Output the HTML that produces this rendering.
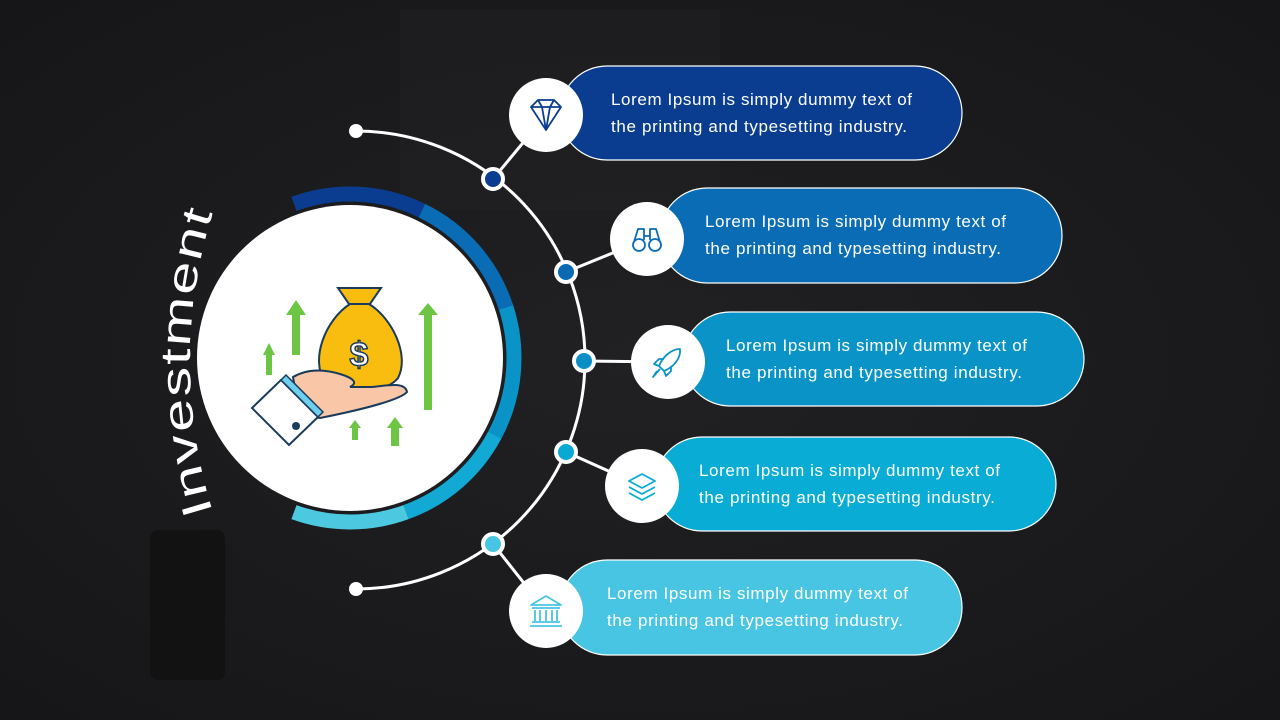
<!DOCTYPE html>
<html><head><meta charset="utf-8"><style>
html,body{margin:0;padding:0;width:1280px;height:720px;overflow:hidden;background:#1a1a1c}
svg{display:block}
text{font-family:"Liberation Sans",sans-serif}
</style></head><body>
<svg width="1280" height="720" viewBox="0 0 1280 720" xmlns="http://www.w3.org/2000/svg">
<defs>
<radialGradient id="bg" cx="50%" cy="50%" r="70%">
<stop offset="0" stop-color="#212123"/><stop offset="1" stop-color="#161618"/>
</radialGradient>
<path id="tp" d="M213,512 A500,500 0 0 1 213,212"/>
</defs>
<rect width="1280" height="720" fill="url(#bg)"/>
<rect x="400" y="10" width="320" height="200" fill="#242527" opacity="0.35"/>
<rect x="150" y="530" width="75" height="150" rx="8" fill="#121213"/>

<path d="M356,131 A229,229 0 0 1 356,589" fill="none" stroke="#fff" stroke-width="3"/>
<g stroke="#fff" stroke-width="3">
<line x1="493" y1="179" x2="546" y2="115"/>
<line x1="566" y1="272" x2="647" y2="239"/>
<line x1="584" y1="361" x2="668" y2="362"/>
<line x1="566" y1="452" x2="642" y2="486"/>
<line x1="493" y1="544" x2="546" y2="611"/>
</g>
<circle cx="356" cy="131" r="7" fill="#fff"/>
<circle cx="356" cy="589" r="7" fill="#fff"/>
<g stroke="#fff" stroke-width="4">
<circle cx="493" cy="179" r="10" fill="#0a3d8f"/>
<circle cx="566" cy="272" r="10" fill="#0a6ab3"/>
<circle cx="584" cy="361" r="10" fill="#0a8fc5"/>
<circle cx="566" cy="452" r="10" fill="#0aa9d4"/>
<circle cx="493" cy="544" r="10" fill="#47c5e2"/>
</g>

<g stroke="#fff" stroke-width="1.2">
<rect x="560" y="66" width="402" height="94" rx="47" fill="#0a3d8f"/>
<rect x="660" y="188" width="402" height="95" rx="47" fill="#0a6cb4"/>
<rect x="683" y="312" width="401" height="94" rx="47" fill="#0a93c6"/>
<rect x="655" y="437" width="401" height="94" rx="47" fill="#08acd4"/>
<rect x="560" y="560" width="402" height="95" rx="47" fill="#47c5e2"/>
</g>
<g fill="#fff" font-size="17" lengthAdjust="spacingAndGlyphs">
<text x="611" y="105" textLength="301">Lorem Ipsum is simply dummy text of</text>
<text x="611" y="132" textLength="296">the printing and typesetting industry.</text>
<text x="705" y="227" textLength="301">Lorem Ipsum is simply dummy text of</text>
<text x="705" y="254" textLength="296">the printing and typesetting industry.</text>
<text x="726" y="351" textLength="301">Lorem Ipsum is simply dummy text of</text>
<text x="726" y="378" textLength="296">the printing and typesetting industry.</text>
<text x="699" y="476" textLength="301">Lorem Ipsum is simply dummy text of</text>
<text x="699" y="503" textLength="296">the printing and typesetting industry.</text>
<text x="607" y="599" textLength="301">Lorem Ipsum is simply dummy text of</text>
<text x="607" y="626" textLength="296">the printing and typesetting industry.</text>
</g>
<g fill="#fff">
<circle cx="546" cy="115" r="37"/>
<circle cx="647" cy="239" r="37"/>
<circle cx="668" cy="362" r="37"/>
<circle cx="642" cy="486" r="37"/>
<circle cx="546" cy="611" r="37"/>
</g>
<g fill="none" stroke-width="1.8" stroke-linejoin="round">
<g stroke="#0a3d8f">
<path d="M531,107 L538,100 L554,100 L561,107 L546,130 Z M531,107 H561 M538,100 L542,107 L546,130 L550,107 L554,100"/>
</g>
<g stroke="#0a6cb4">
<circle cx="639" cy="245" r="6"/><circle cx="655" cy="245" r="6"/>
<path d="M634,242 L638,229 H644 V240 M660,242 L656,229 H650 V240 M644,236 H650"/>
</g>
<g stroke="#0a93c6">
<path d="M680,349 C672,349 663,356 659,366 L664,371 C674,367 681,358 680,349 Z M659,366 L654,364 L659,359 H664 M664,371 L666,376 L671,371 V366 M660,369 L653,377 L657,371"/>
</g>
<g stroke="#08acd4">
<path d="M642,474 L655,481 L642,488 L629,481 Z M629,487 L642,494 L655,487 M629,493 L642,500 L655,493"/>
</g>
<g stroke="#47c5e2">
<path d="M531,605 L546,596 L561,605 Z M532,608 H560 M535,610 V621 M540,610 V621 M546,610 V621 M552,610 V621 M557,610 V621 M532,622 H560 M530,626 H562"/>
</g>
</g>

<g fill="none" stroke-width="15">
<circle cx="350" cy="358" r="164" stroke="#0a3d8f" pathLength="360" stroke-dasharray="46 314" stroke-dashoffset="110"/>
<circle cx="350" cy="358" r="164" stroke="#0a6cb4" pathLength="360" stroke-dasharray="46 314" stroke-dashoffset="64"/>
<circle cx="350" cy="358" r="164" stroke="#0a93c6" pathLength="360" stroke-dasharray="46 314" stroke-dashoffset="18"/>
<circle cx="350" cy="358" r="164" stroke="#12a9d5" pathLength="360" stroke-dasharray="42 318" stroke-dashoffset="-28"/>
<circle cx="350" cy="358" r="164" stroke="#4cc8e0" pathLength="360" stroke-dasharray="40 320" stroke-dashoffset="-70"/>
</g>
<circle cx="350" cy="358" r="153" fill="#fff"/>

<g fill="#6cc644">
<path d="M286,315 L296,300 L306,315 H300 V355 H292 V315 Z"/>
<path d="M263,355 L269,343 L275,355 H272 V375 H266 V355 Z"/>
<path d="M418,315 L428,303 L438,315 H432 V410 H424 V315 Z"/>
<path d="M349,428 L355,420 L361,428 H358 V440 H352 V428 Z"/>
<path d="M387,428 L395,417 L403,428 H399 V446 H391 V428 Z"/>
</g>
<path d="M338,288 H381 L370,304 H349 Z" fill="#f9bd0f" stroke="#1a3b5c" stroke-width="2"/>
<path d="M350,304 C325,320 310,360 325,382 C340,395 385,395 398,378 C410,355 392,318 369,304 Z" fill="#f9bd0f" stroke="#1a3b5c" stroke-width="2"/>
<text x="359" y="366" font-size="34" font-weight="bold" fill="#fff" stroke="#1a3b5c" stroke-width="1.5" text-anchor="middle">$</text>
<path d="M293,377 C305,370 320,368 340,374 C350,377 360,382 350,387 L372,387 C390,385 405,382 407,392 C400,400 360,410 320,418 L300,415 Z" fill="#f9c7a7" stroke="#1a3b5c" stroke-width="2"/>
<path d="M252,408 L281,380 L318,417 L289,445 Z" fill="#fff" stroke="#1a3b5c" stroke-width="2"/>
<path d="M281,380 L286,375 L323,412 L318,417 Z" fill="#6fd0ee" stroke="#1a3b5c" stroke-width="1.5"/>
<circle cx="296" cy="426" r="4" fill="#1a3b5c"/>

<text font-size="42" fill="#fff" letter-spacing="1"><textPath href="#tp" textLength="305" lengthAdjust="spacingAndGlyphs">Investment</textPath></text>
</svg>
</body></html>
